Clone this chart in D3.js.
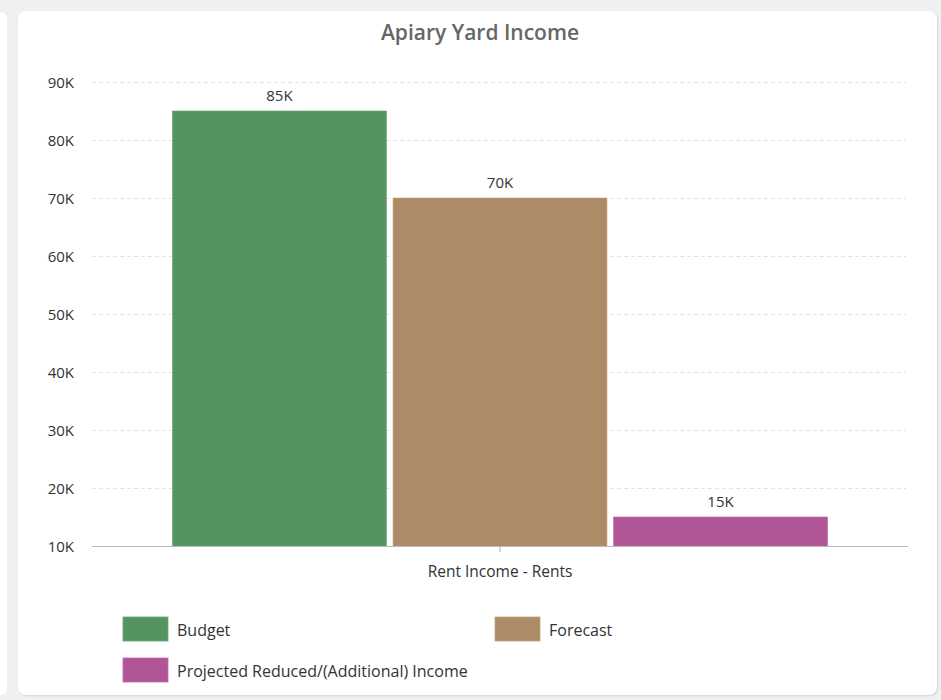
<!DOCTYPE html>
<html>
<head>
<meta charset="utf-8">
<script src="https://cdn.jsdelivr.net/npm/d3@7"></script>
<style>
  html, body { margin: 0; padding: 0; background: #eef0f2; }
  body { width: 941px; height: 700px; position: relative; overflow: hidden; font-family: "Open Sans", sans-serif; }
  .side { position: absolute; left: -12px; top: 12px; width: 19px; height: 683px; background: #fff; border-radius: 6px; }
  .card { position: absolute; left: 18px; top: 11px; width: 919px; height: 684px; background: #fff; border-radius: 8px; box-shadow: 1px 1px 2px rgba(0,0,0,0.12); }
  svg { position: absolute; left: 0; top: 0; }
</style>
</head>
<body>
<div class="side"></div>
<div class="card"></div>
<script>
// Chart data
const title = "Apiary Yard Income";
const categories = ["Rent Income - Rents"];
const seriesNames = ["Budget", "Forecast", "Projected Reduced/(Additional) Income"];
const seriesColors = ["#559461", "#ad8b66", "#b05596"];
const seriesValues = [[85000], [70000], [15000]];
const yTicks = [10000, 20000, 30000, 40000, 50000, 60000, 70000, 80000, 90000];
const yDomain = [10000, 90000];

const fmtK = v => (v / 1000) + "K";

const svg = d3.select("body").append("svg").attr("width", 941).attr("height", 700);

const x0 = d3.scaleBand().domain(categories).range([92, 908]).paddingInner(0).paddingOuter(0.1229);
const x1 = d3.scaleBand().domain(seriesNames).range([0, x0.bandwidth()]).paddingInner(0.03);
const y = d3.scaleLinear().domain(yDomain).range([546, 82]);

// title
svg.append("text").attr("x", 480).attr("y", 40).attr("text-anchor", "middle")
  .attr("font-size", 21).attr("font-weight", 600).attr("fill", "#666").text(title);

// gridlines
svg.append("g").selectAll("line").data(yTicks.filter(t => t > yDomain[0])).join("line")
  .attr("x1", 92).attr("x2", 906).attr("y1", d => y(d) + 0.5).attr("y2", d => y(d) + 0.5)
  .attr("stroke", "#e4e4e4").attr("stroke-dasharray", "4,3");

// y axis labels
const yAxis = d3.axisLeft(y).tickValues(yTicks).tickFormat(fmtK).tickSize(0).tickPadding(0);
const yg = svg.append("g").attr("transform", "translate(74,0)").call(yAxis);
yg.select(".domain").remove();
yg.selectAll("text").attr("font-family", "Open Sans").attr("font-size", 15).attr("fill", "#333").attr("dy", "0.35em");

// bars
const groups = svg.append("g").selectAll("g").data(categories).join("g")
  .attr("transform", c => `translate(${x0(c)},0)`);
seriesNames.forEach((name, si) => {
  groups.append("rect")
    .attr("x", x1(name)).attr("width", x1.bandwidth())
    .attr("y", (c, ci) => y(seriesValues[si][ci]))
    .attr("height", (c, ci) => y(yDomain[0]) - y(seriesValues[si][ci]))
    .attr("fill", seriesColors[si])
    .attr("stroke", d3.color(seriesColors[si]).brighter(0.3)).attr("stroke-width", 0.6);
  groups.append("text")
    .attr("x", x1(name) + x1.bandwidth() / 2)
    .attr("y", (c, ci) => y(seriesValues[si][ci]) - 10)
    .attr("text-anchor", "middle").attr("font-size", 15).attr("fill", "#333")
    .text((c, ci) => fmtK(seriesValues[si][ci]));
});

// x axis
const xAxis = d3.axisBottom(x0).tickSize(6).tickSizeOuter(0).tickPadding(14);
const xg = svg.append("g").attr("transform", "translate(0,546)").call(xAxis);
xg.select(".domain").attr("stroke", "#bbb").attr("d", "M92,0.5H908");
xg.selectAll(".tick line").attr("stroke", "#aaa");
xg.selectAll("text").attr("font-family", "Open Sans").attr("font-size", 15.5).attr("fill", "#333");

// legend
const legendPos = [[123, 617], [495, 617], [123, 658]];
const lg = svg.append("g").selectAll("g").data(seriesNames).join("g")
  .attr("transform", (d, i) => `translate(${legendPos[i][0]},${legendPos[i][1]})`);
lg.append("rect").attr("width", 45).attr("height", 24)
  .attr("fill", (d, i) => seriesColors[i])
  .attr("stroke", (d, i) => d3.color(seriesColors[i]).brighter(0.4)).attr("stroke-width", 0.8);
lg.append("text").attr("x", 54).attr("y", 13).attr("dy", "0.35em")
  .attr("font-size", 16).attr("fill", "#333").text(d => d);
</script>
</body>
</html>
